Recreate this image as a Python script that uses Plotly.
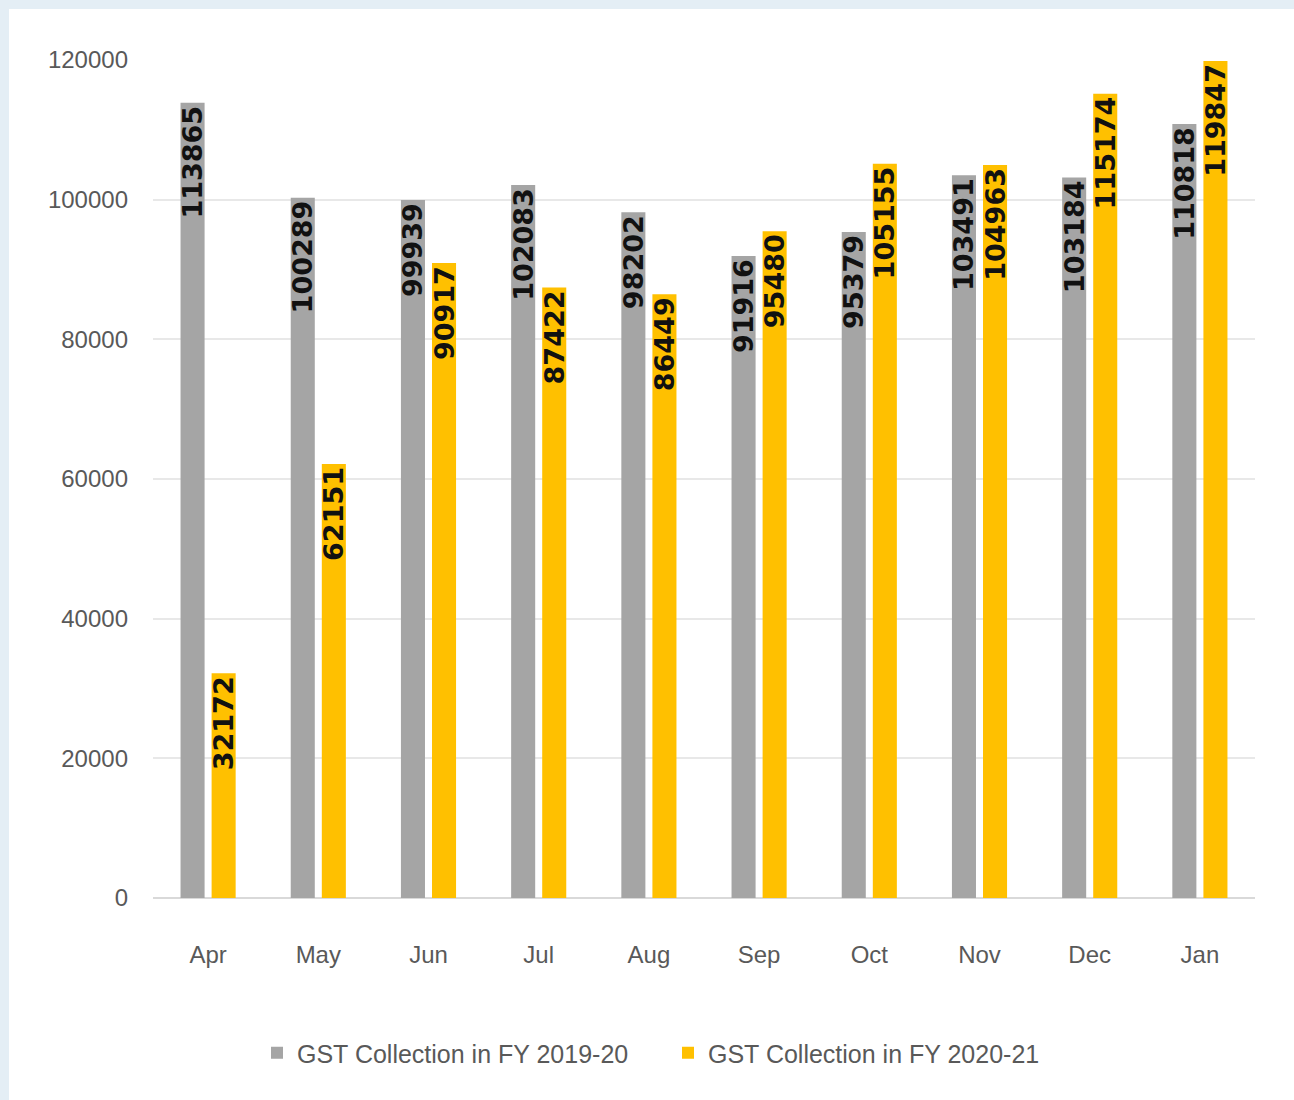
import plotly.graph_objects as go

months = ["Apr", "May", "Jun", "Jul", "Aug", "Sep", "Oct", "Nov", "Dec", "Jan"]
fy_2019_20 = [113865, 100289, 99939, 102083, 98202, 91916, 95379, 103491, 103184, 110818]
fy_2020_21 = [32172, 62151, 90917, 87422, 86449, 95480, 105155, 104963, 115174, 119847]
series_names = ["GST Collection in FY 2019-20", "GST Collection in FY 2020-21"]
y_ticks = [0, 20000, 40000, 60000, 80000, 100000, 120000]

W, H = 1294, 1100
ml, mr, mt, mb = 153, 39, 60, 202
pw, ph = W - ml - mr, H - mt - mb

label_font = dict(family="DejaVu Sans", size=27, color="#111111", weight="bold")

fig = go.Figure()
fig.add_trace(go.Bar(
    x=months, y=fy_2019_20, name=series_names[0],
    marker=dict(color="#A5A5A5", line=dict(width=0)),
    text=[str(v) for v in fy_2019_20], textposition="inside",
    insidetextanchor="end", textangle=-90, textfont=label_font,
    constraintext="none", hoverinfo="x+y",
))
fig.add_trace(go.Bar(
    x=months, y=fy_2020_21, name=series_names[1],
    marker=dict(color="#FFC000", line=dict(width=0)),
    text=[str(v) for v in fy_2020_21], textposition="inside",
    insidetextanchor="end", textangle=-90, textfont=label_font,
    constraintext="none", hoverinfo="x+y",
))

def px_x(p):
    return (p - ml) / pw

def px_y(p):
    return (H - mb - p) / ph

shapes = [
    dict(type="rect", xref="paper", yref="paper", layer="below",
         x0=px_x(0), x1=px_x(9), y0=px_y(H), y1=px_y(0),
         fillcolor="#E4EEF5", line=dict(width=0)),
    dict(type="rect", xref="paper", yref="paper", layer="below",
         x0=px_x(0), x1=px_x(W), y0=px_y(9), y1=px_y(0),
         fillcolor="#E4EEF5", line=dict(width=0)),
]

fig.update_layout(
    width=W, height=H,
    margin=dict(l=ml, r=mr, t=mt, b=mb),
    paper_bgcolor="white", plot_bgcolor="white",
    barmode="group", bargap=0.436, bargroupgap=0.226,
    font=dict(family="Liberation Sans", color="#595959"),
    showlegend=True,
    legend=dict(orientation="h", x=px_x(668), xanchor="center", y=px_y(1053), yanchor="middle",
                font=dict(size=25, color="#595959"), itemwidth=30,
                entrywidth=366, tracegroupgap=0),
    xaxis=dict(showgrid=False, showline=False, ticks="", ticklabelstandoff=40,
               tickfont=dict(size=24, color="#595959")),
    yaxis=dict(range=[0, 120000], tickvals=y_ticks, ticktext=[str(v) for v in y_ticks],
               showgrid=True, gridcolor="#E8E8E8", gridwidth=2,
               zeroline=True, zerolinecolor="#D9D9D9", zerolinewidth=2,
               showline=False, ticks="", ticklabelstandoff=24,
               tickfont=dict(size=24, color="#595959")),
    shapes=shapes,
)

fig.write_html("out.html")
